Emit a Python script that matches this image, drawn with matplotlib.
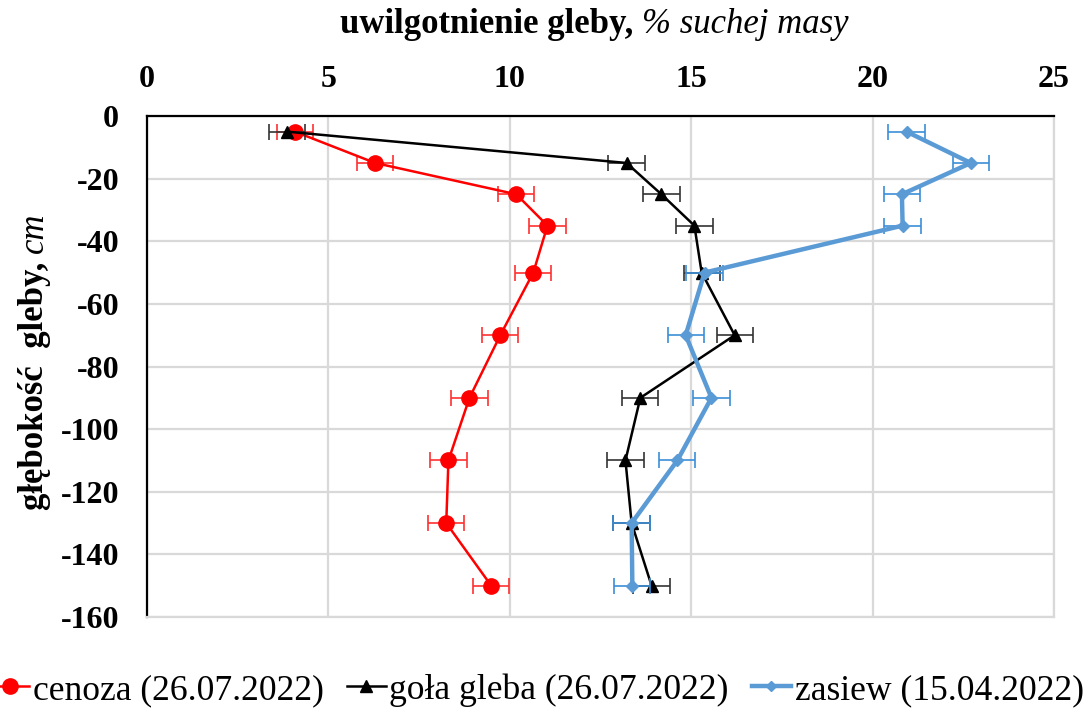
import matplotlib
matplotlib.use("Agg")
import matplotlib.pyplot as plt
from matplotlib.lines import Line2D

depth = [-5, -15, -25, -35, -50, -70, -90, -110, -130, -150]
cenoza = [4.08, 6.29, 10.18, 11.04, 10.65, 9.74, 8.89, 8.31, 8.25, 9.49]
gola = [3.86, 13.22, 14.18, 15.09, 15.29, 16.20, 13.60, 13.19, 13.36, 13.91]
zasiew = [20.94, 22.71, 20.81, 20.83, 15.37, 14.85, 15.56, 14.62, 13.36, 13.38]
err_cenoza = [0.5] * 10
err_gola = [0.5] * 10
err_zasiew = [0.5] * 10
labels = ["cenoza (26.07.2022)", "goła gleba (26.07.2022)", "zasiew (15.04.2022)"]
xticks = [0, 5, 10, 15, 20, 25]
yticks = [0, -20, -40, -60, -80, -100, -120, -140, -160]

plt.rcParams['font.family'] = ['Liberation Serif', 'DejaVu Serif']
plt.rcParams['axes.unicode_minus'] = False

fig = plt.figure(figsize=(10.91, 7.13), dpi=100)
ax = fig.add_axes([0.1347, 0.1346, 0.8313, 0.7027])

ax.set_xlim(0, 25)
ax.set_ylim(-160, 0)
ax.set_xticks(xticks)
ax.set_yticks(yticks)
ax.grid(True, color='#d9d9d9', linewidth=1.6, zorder=0)
ax.set_axisbelow(True)
for s in ['right', 'bottom']:
    ax.spines[s].set_color('#d9d9d9')
    ax.spines[s].set_linewidth(1.6)
for s in ['left', 'top']:
    ax.spines[s].set_color('black')
    ax.spines[s].set_linewidth(1.6)

ax.xaxis.tick_top()
ax.tick_params(axis='both', length=0, labelsize=23)
ax.tick_params(axis='x', pad=16)
ax.tick_params(axis='y', pad=20)
for lab in ax.get_xticklabels() + ax.get_yticklabels():
    lab.set_fontweight('bold')

red = '#ff0000'
blue = '#5b9bd5'
ax.errorbar(cenoza, depth, xerr=err_cenoza, color=red, ecolor='#ff3030', elinewidth=1.2,
            capsize=6, capthick=1.2, marker='o', markersize=11, linewidth=1.8, zorder=3)
ax.errorbar(gola, depth, xerr=err_gola, color='black', ecolor='#333333', elinewidth=1.2,
            capsize=6, capthick=1.2, marker='^', markersize=9, linewidth=1.8, zorder=4)
ax.errorbar(zasiew, depth, xerr=err_zasiew, color=blue, ecolor='#3a8fd8', elinewidth=1.2,
            capsize=6, capthick=1.2, marker='D', markersize=6, linewidth=3.2, zorder=5)

# title (bold + italic part)
t1 = fig.text(0.3116, 0.965, "uwilgotnienie gleby, ", fontsize=25, fontweight='bold',
              ha='left', va='center')
ax.annotate("% suchej masy", xy=(1, 0.5), xycoords=t1, fontsize=25, fontstyle='italic',
            ha='left', va='center', annotation_clip=False)

# y label
t2 = fig.text(0.032, 0.285, "głębokość  gleby, ", fontsize=25, fontweight='bold',
              rotation=90, ha='center', va='bottom')
ax.annotate("cm", xy=(0.5, 1), xycoords=t2, fontsize=25, fontstyle='italic',
            rotation=90, ha='center', va='bottom', annotation_clip=False)

handles = [
    Line2D([], [], color=red, marker='o', markersize=11, linewidth=1.8),
    Line2D([], [], color='black', marker='^', markersize=8, linewidth=1.8),
    Line2D([], [], color=blue, marker='D', markersize=5, linewidth=3.2),
]
fig.legend(handles, labels, loc='center', bbox_to_anchor=(0.492, 0.032), ncol=3,
           frameon=False, fontsize=25.6, handlelength=1.1, handletextpad=0.1,
           columnspacing=0.65)

fig.savefig("out.png", dpi=100)
